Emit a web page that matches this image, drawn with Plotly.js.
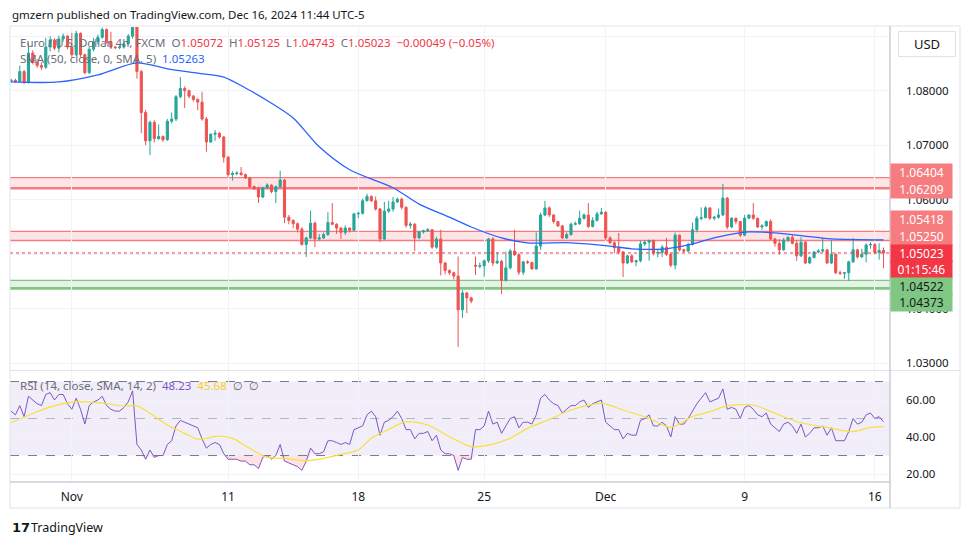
<!DOCTYPE html>
<html>
<head>
<meta charset="utf-8">
<script src="https://cdn.plot.ly/plotly-3.0.1.min.js"></script>
<style>
html,body{margin:0;padding:0;background:#ffffff;}
#chart{width:970px;height:545px;}
</style>
</head>
<body>
<div id="chart"></div>
<script>
// ---------- DATA (EUR/USD 4h, FXCM) ----------
const opens = [
1.0818,1.0819,1.0817,1.0835,1.0815,1.0869,1.0852,1.0846,1.0843,1.0880,
1.0893,1.0878,1.0895,1.0900,1.0880,1.0866,1.0905,1.0866,1.0833,1.0876,
1.0890,1.0898,1.0912,1.0890,1.0880,1.0879,1.0880,1.0886,1.0900,1.0925,
1.0835,1.0760,1.0708,1.0742,1.0712,1.0716,1.0710,1.0744,1.0748,1.0789,
1.0804,1.0800,1.0790,1.0784,1.0779,1.0748,1.0706,1.0720,1.0722,1.0715,
1.0678,1.0646,1.0648,1.0649,1.0646,1.0640,1.0624,1.0620,1.0605,1.0622,
1.0627,1.0615,1.0624,1.0636,1.0568,1.0562,1.0556,1.0546,1.0518,1.0530,
1.0557,1.0528,1.0530,1.0536,1.0558,1.0555,1.0548,1.0540,1.0548,1.0544,
1.0574,1.0575,1.0598,1.0606,1.0598,1.0583,1.0528,1.0579,1.0583,1.0596,
1.0601,1.0586,1.0553,1.0555,1.0530,1.0541,1.0543,1.0545,1.0513,1.0528,
1.0484,1.0470,1.0466,1.0460,1.0398,1.0429,1.0420,1.0480,1.0478,1.0479,
1.0488,1.0528,1.0484,1.0487,1.0452,1.0475,1.0506,1.0499,1.0467,1.0486,
1.0485,1.0473,1.0515,1.0572,1.0585,1.0572,1.0560,1.0552,1.0530,1.0536,
1.0555,1.0556,1.0566,1.0572,1.0551,1.0562,1.0574,1.0577,1.0530,1.0521,
1.0512,1.0504,1.0484,1.0497,1.0486,1.0488,1.0519,1.0522,1.0525,1.0502,
1.0503,1.0513,1.0500,1.0480,1.0535,1.0508,1.0506,1.0518,1.0545,1.0566,
1.0567,1.0585,1.0566,1.0568,1.0572,1.0603,1.0550,1.0566,1.0560,1.0535,
1.0566,1.0572,1.0566,1.0550,1.0552,1.0560,1.0528,1.0520,1.0508,1.0526,
1.0531,1.0520,1.0497,1.0522,1.0484,1.0494,1.0504,1.0506,1.0508,1.0484,
1.0500,1.0466,1.0465,1.0466,1.0486,1.0508,1.0495,1.0500,1.0517,1.0518,
1.0503,1.05072];
const highs = [
1.0822,1.0822,1.0846,1.0838,1.0888,1.0874,1.0858,1.0852,1.0897,1.0900,
1.0896,1.0901,1.0905,1.0902,1.0906,1.0910,1.0907,1.0868,1.0880,1.0897,
1.0903,1.0916,1.0914,1.0908,1.0882,1.0883,1.0888,1.0904,1.0940,1.0940,
1.0838,1.0765,1.0745,1.0746,1.0738,1.0718,1.0748,1.0760,1.0792,1.0825,
1.0808,1.0802,1.0792,1.0786,1.0798,1.0752,1.0722,1.0728,1.0724,1.0717,
1.0680,1.0652,1.0652,1.0660,1.0648,1.0642,1.0626,1.0624,1.0624,1.0630,
1.0628,1.0626,1.0653,1.0638,1.0572,1.0564,1.0558,1.0550,1.0532,1.0580,
1.0560,1.0537,1.0540,1.0577,1.0594,1.0557,1.0550,1.0553,1.0549,1.0576,
1.0578,1.0602,1.0611,1.0608,1.0606,1.0585,1.0596,1.0598,1.0605,1.0604,
1.0604,1.0588,1.0559,1.0557,1.0543,1.0545,1.0548,1.0546,1.0532,1.0545,
1.0486,1.0472,1.0468,1.0496,1.0434,1.0431,1.0422,1.0496,1.0485,1.0490,
1.0530,1.0531,1.0504,1.0490,1.0505,1.0510,1.0545,1.0502,1.0488,1.0489,
1.0486,1.0540,1.0576,1.0598,1.0588,1.0573,1.0561,1.0554,1.0540,1.0558,
1.0560,1.0580,1.0575,1.0594,1.0568,1.0578,1.0585,1.0579,1.0533,1.0524,
1.0539,1.0506,1.0499,1.0500,1.0490,1.0525,1.0526,1.0527,1.0527,1.0510,
1.0517,1.0530,1.0502,1.0540,1.0536,1.0510,1.0521,1.0558,1.0570,1.0586,
1.0588,1.0586,1.0570,1.0584,1.0629,1.0605,1.0568,1.0567,1.0561,1.0572,
1.0573,1.0594,1.0567,1.0555,1.0562,1.0564,1.0530,1.0528,1.0530,1.0533,
1.0536,1.0526,1.0531,1.0524,1.0496,1.0506,1.0509,1.0530,1.0510,1.0526,
1.0502,1.0470,1.0467,1.0488,1.0530,1.0510,1.0510,1.0520,1.0522,1.0520,
1.0520,1.05125];
const lows = [
1.0814,1.0814,1.0815,1.0812,1.0813,1.0848,1.0842,1.0838,1.0840,1.0872,
1.0874,1.0870,1.0890,1.0876,1.0862,1.0864,1.0862,1.0830,1.0831,1.0872,
1.0885,1.0895,1.0886,1.0876,1.0876,1.0876,1.0877,1.0884,1.0895,1.0822,
1.0722,1.0700,1.0682,1.0705,1.0710,1.0706,1.0708,1.0740,1.0744,1.0786,
1.0768,1.0786,1.0780,1.0764,1.0745,1.0688,1.0704,1.0708,1.0712,1.0668,
1.0642,1.0635,1.0645,1.0644,1.0638,1.0622,1.0618,1.0594,1.0603,1.0620,
1.0612,1.0594,1.0622,1.0557,1.0555,1.0548,1.0540,1.0516,1.0495,1.0528,
1.0513,1.0525,1.0528,1.0534,1.0553,1.0537,1.0528,1.0535,1.0540,1.0542,
1.0566,1.0573,1.0597,1.0596,1.0580,1.0522,1.0526,1.0576,1.0578,1.0594,
1.0582,1.0549,1.0547,1.0506,1.0528,1.0538,1.0541,1.0510,1.0510,1.0461,
1.0463,1.0462,1.0454,1.0330,1.0383,1.0392,1.0410,1.0462,1.0474,1.0459,
1.0484,1.0478,1.0482,1.0427,1.0450,1.0472,1.0497,1.0462,1.0462,1.0482,
1.0472,1.0472,1.0508,1.0570,1.0568,1.0556,1.0550,1.0528,1.0528,1.0534,
1.0553,1.0554,1.0563,1.0548,1.0549,1.0560,1.0572,1.0526,1.0518,1.0502,
1.0500,1.0458,1.0482,1.0484,1.0478,1.0485,1.0515,1.0488,1.0498,1.0494,
1.0495,1.0497,1.0476,1.0472,1.0505,1.0503,1.0504,1.0516,1.0540,1.0562,
1.0566,1.0563,1.0562,1.0565,1.0570,1.0546,1.0548,1.0555,1.0532,1.0533,
1.0565,1.0563,1.0548,1.0545,1.0550,1.0526,1.0514,1.0499,1.0506,1.0522,
1.0518,1.0488,1.0495,1.0482,1.0482,1.0492,1.0502,1.0503,1.0482,1.0482,
1.0464,1.0462,1.0455,1.0451,1.0484,1.0492,1.0494,1.0485,1.0510,1.0500,
1.0490,1.04743];
const closes = [
1.0819,1.0817,1.0835,1.0815,1.0869,1.0852,1.0846,1.0843,1.0880,1.0893,
1.0878,1.0895,1.0900,1.0880,1.0866,1.0905,1.0866,1.0833,1.0876,1.0890,
1.0898,1.0912,1.0890,1.0880,1.0879,1.0880,1.0886,1.0900,1.0925,1.0835,
1.0760,1.0708,1.0742,1.0712,1.0716,1.0710,1.0744,1.0748,1.0789,1.0804,
1.0800,1.0790,1.0784,1.0779,1.0748,1.0706,1.0720,1.0722,1.0715,1.0678,
1.0646,1.0648,1.0649,1.0646,1.0640,1.0624,1.0620,1.0605,1.0622,1.0627,
1.0615,1.0624,1.0636,1.0568,1.0562,1.0556,1.0546,1.0518,1.0530,1.0557,
1.0528,1.0530,1.0536,1.0558,1.0555,1.0548,1.0540,1.0548,1.0544,1.0574,
1.0575,1.0598,1.0606,1.0598,1.0583,1.0528,1.0579,1.0583,1.0596,1.0601,
1.0586,1.0553,1.0555,1.0530,1.0541,1.0543,1.0545,1.0513,1.0528,1.0484,
1.0470,1.0466,1.0460,1.0398,1.0429,1.0420,1.0414,1.0478,1.0479,1.0488,
1.0528,1.0484,1.0487,1.0452,1.0475,1.0506,1.0499,1.0467,1.0486,1.0485,
1.0473,1.0515,1.0572,1.0585,1.0572,1.0560,1.0552,1.0530,1.0536,1.0555,
1.0556,1.0566,1.0572,1.0551,1.0562,1.0574,1.0577,1.0530,1.0521,1.0512,
1.0504,1.0484,1.0497,1.0486,1.0488,1.0519,1.0522,1.0525,1.0502,1.0503,
1.0513,1.0500,1.0480,1.0535,1.0508,1.0506,1.0518,1.0545,1.0566,1.0567,
1.0585,1.0566,1.0568,1.0572,1.0603,1.0550,1.0566,1.0560,1.0535,1.0566,
1.0572,1.0566,1.0550,1.0552,1.0560,1.0528,1.0520,1.0508,1.0526,1.0531,
1.0520,1.0497,1.0522,1.0484,1.0494,1.0504,1.0506,1.0508,1.0484,1.0500,
1.0466,1.0465,1.0466,1.0486,1.0508,1.0495,1.0500,1.0517,1.0518,1.0503,
1.0507,1.05023];

// SMA(50) read at selected bars
const smaBars = [0,11,20,29,36,43,49,54,60,65,71,78,88,94,101,106,113,119,129,138,143,151,156,163,170,176,182,189,201];
const smaVals = [1.0816,1.0816,1.0829,1.0851,1.0840,1.0832,1.0825,1.0805,1.0777,1.0750,1.0697,1.0655,1.0622,1.0592,1.0568,1.0550,1.0530,1.0521,1.0521,1.0515,1.0510,1.0510,1.0517,1.0532,1.0541,1.0539,1.0534,1.0528,1.05263];

// RSI(14) per bar
const rsi = [
54,52,57,51,62,60,58,57,63,64,60,63,63,58,55,61,55,47,57,59,
60,62,57,55,54,54,56,59,65,36,33,28,33,29,30,30,36,38,46,49,
48,47,46,45,39,34,36,37,36,31,28,28,28,27,27,25,25,23,29,30,
28,30,36,27,26,25,24,22,27,34,31,31,32,38,38,37,36,37,36,44,
45,46,52,54,51,41,48,49,51,54,50,44,44,39,42,42,43,38,41,33,
31,31,30,22,29,28,28,44,44,46,54,47,48,42,46,50,51,45,48,48,
47,52,61,63,60,58,57,53,55,57,57,59,60,56,58,59,60,48,46,44,
44,39,42,41,41,49,50,52,46,46,48,46,40,51,47,47,50,54,58,61,
64,59,60,61,66,55,56,55,50,56,57,55,52,51,53,47,45,43,47,48,
46,42,47,40,42,45,45,46,41,45,38,38,38,43,50,47,48,52,53,50,
51,48.23];
// RSI-based SMA(14) read at selected bars
const rsiSmaBars = [0,6,10,15,20,26,29,32,36,40,43,48,51,55,59,63,68,72,76,80,83,87,91,96,101,106,111,115,119,124,129,136,141,147,152,157,161,165,171,177,182,188,194,198,201];
const rsiSmaVals = [47.7,53.7,56.8,59.1,58.6,56.8,56.8,52.8,46.5,42.0,38.9,40.5,39.3,33.9,29.0,28.5,27.2,28.5,30.6,33.0,39.3,44.1,48.3,46.5,40.2,34.8,36.2,39.3,44.7,49.5,54.6,58.2,54.6,50.1,45.2,51.0,53.7,56.8,57.3,51.9,47.7,45.2,42.9,45.2,45.68];

// Date axis
const tickBars = [14,50,80,109,137,169,199];
const tickLabels = ['Nov','11','18','25','Dec','9','16'];
// price grid levels and their labels (levels hidden behind markers carry no label)
const priceTicks = [1.03,1.04,1.05,1.06,1.07,1.08,1.09];
const priceTickText = ['1.03000','1.04000','','1.06000','1.07000','1.08000',''];
const rsiTicks = [20,40,60];

// Drawn zones
const zoneUpper = [1.06209, 1.06404];
const zoneMiddle = [1.05250, 1.05418];
const zoneLower = [1.04373, 1.04522];
const countdown = '01:15:46';

// ---------- BUILD ----------
const n = closes.length;
const bars = closes.map((_, i) => i);
const last = n - 1;
const rsiBelow = rsi.map(v => Math.min(v, 30));
const f5 = v => v.toFixed(5);

const FONT = '"Noto Sans", "DejaVu Sans", sans-serif';
const GRID = '#f0f3fa';
const FRAME = '#e0e3eb';
const AXISLINE = '#b2b5be';

const traces = [
  {type:'candlestick', x:bars, open:opens, high:highs, low:lows, close:closes,
   xaxis:'x', yaxis:'y', whiskerwidth:0, hoverinfo:'skip',
   increasing:{line:{color:'#26a69a', width:1}, fillcolor:'#26a69a'},
   decreasing:{line:{color:'#ef5350', width:1}, fillcolor:'#ef5350'}},
  {type:'scatter', mode:'lines', x:smaBars, y:smaVals, xaxis:'x', yaxis:'y',
   line:{color:'#2962ff', width:1.3, shape:'spline', smoothing:0.8}, hoverinfo:'skip'},
  {type:'scatter', mode:'lines', x:bars, y:bars.map(() => 30), xaxis:'x', yaxis:'y2',
   line:{width:0, color:'rgba(0,0,0,0)'}, hoverinfo:'skip'},
  {type:'scatter', mode:'lines', x:bars, y:rsiBelow, xaxis:'x', yaxis:'y2',
   fill:'tonexty', fillcolor:'rgba(242,54,69,0.14)', line:{width:0, color:'rgba(0,0,0,0)'}, hoverinfo:'skip'},
  {type:'scatter', mode:'lines', x:bars, y:rsi, xaxis:'x', yaxis:'y2',
   line:{color:'#7e57c2', width:1}, hoverinfo:'skip'},
  {type:'scatter', mode:'lines', x:rsiSmaBars, y:rsiSmaVals, xaxis:'x', yaxis:'y2',
   line:{color:'#f7e03c', width:1.2, shape:'spline', smoothing:0.8}, hoverinfo:'skip'}
];

// pixel helpers for paper coords (plot area 10..890 x, 27..482 y)
const px = x => (x - 10) / 880;
const py = y => (482 - y) / 455;

const shapes = [];
function zone(range, fill, lineCol, wTop, wBot){
  shapes.push({type:'rect', xref:'paper', yref:'y', x0:0, x1:1, y0:range[0], y1:range[1],
    fillcolor:fill, line:{width:0}, layer:'below'});
  shapes.push({type:'line', xref:'paper', yref:'y', x0:0, x1:1, y0:range[1], y1:range[1],
    line:{color:lineCol, width:wTop}, layer:'below'});
  shapes.push({type:'line', xref:'paper', yref:'y', x0:0, x1:1, y0:range[0], y1:range[0],
    line:{color:lineCol, width:wBot}, layer:'below'});
}
zone(zoneUpper, 'rgba(242,54,69,0.13)', '#f77c80', 1.2, 2.5);
zone(zoneMiddle, 'rgba(242,54,69,0.13)', '#f77c80', 1.2, 1.5);
zone(zoneLower, 'rgba(76,175,80,0.15)', '#81c784', 1.2, 2.8);
// last price dotted line
shapes.push({type:'line', xref:'paper', yref:'y', x0:0, x1:1, y0:closes[last], y1:closes[last],
  line:{color:'#f23645', width:1, dash:'dot'}});
// RSI band & levels
shapes.push({type:'rect', xref:'paper', yref:'y2', x0:0, x1:1, y0:30, y1:70,
  fillcolor:'rgba(126,87,194,0.10)', line:{width:0}, layer:'below'});
[[70,'#787b86'],[50,'#b2b5be'],[30,'#787b86']].forEach(([v,c]) => {
  shapes.push({type:'line', xref:'paper', yref:'y2', x0:0, x1:1, y0:v, y1:v,
    line:{color:c, width:1, dash:'dash'}, layer:'below'});
});
// frame
const frame = (x0,y0,x1,y1,c) => shapes.push({type:'line', xref:'paper', yref:'paper',
  x0:px(x0), x1:px(x1), y0:py(y0), y1:py(y1), line:{color:c, width:1}});
frame(10,26,960,26,FRAME);
frame(10,508,960,508,FRAME);
frame(10,26,10,508,FRAME);
frame(960,26,960,508,FRAME);
frame(10,370.5,960,370.5,FRAME);
frame(10,482,890,482,AXISLINE);
frame(890,26,890,508,AXISLINE);

// annotations
const ann = [];
const txt = (x,y,text,opt={}) => ann.push(Object.assign({xref:'paper', yref:'paper', x:px(x), y:py(y),
  xanchor:'left', yanchor:'middle', showarrow:false, text:text,
  font:{family:FONT, size:11.5, color:'#131722'}}, opt));

txt(10, 14, 'gmzern published on TradingView.com, Dec 16, 2024 11:44 UTC-5', {font:{family:FONT, size:11.5, color:'#131722'}});
const G = '#6a6d78', R = '#f23645';
const sp = (c,t) => `<span style="color:${c}">${t}</span>`;
const chg = closes[last] - opens[last];
const chgTxt = (chg < 0 ? '−' : '+') + Math.abs(chg).toFixed(5) + ' (' + (chg < 0 ? '−' : '+') + Math.abs(chg / opens[last] * 100).toFixed(2) + '%)';
txt(18, 42, sp(G,'Euro / U.S. Dollar, 4h, FXCM  O') + sp(R,f5(opens[last])) + sp(G,'  H') + sp(R,f5(highs[last])) +
  sp(G,'  L') + sp(R,f5(lows[last])) + sp(G,'  C') + sp(R,f5(closes[last])) + sp(R,'  ' + chgTxt), {font:{family:FONT, size:11.5, color:G}});
txt(18, 59, sp(G,'SMA (50, close, 0, SMA, 5)  ') + sp('#2962ff', f5(smaVals[smaVals.length-1])), {font:{family:FONT, size:11.5, color:G}});
txt(18, 385, sp(G,'RSI (14, close, SMA, 14, 2)  ') + sp('#7e57c2', rsi[last].toFixed(2)) + '  ' +
  sp('#f2d21c', rsiSmaVals[rsiSmaVals.length-1].toFixed(2)) + sp(G,'  ∅  ∅'), {font:{family:FONT, size:11.5, color:G}});

// USD button
ann.push({xref:'paper', yref:'paper', x:px(927), y:py(44), xanchor:'center', yanchor:'middle', showarrow:false,
  text:'USD', width:56, height:24, bgcolor:'#ffffff', bordercolor:'#e0e3eb', borderwidth:1, borderpad:0,
  font:{family:FONT, size:13, color:'#131722'}});

// price labels on the axis
function plabel(val, text, shift, bg, fc){
  ann.push({xref:'paper', yref:'y', x:1, y:val, xanchor:'left', yanchor:'middle', yshift:shift,
    showarrow:false, text:text, width:61, height:16.5, borderpad:0, bgcolor:bg, align:'center',
    font:{family:FONT, size:12, color:fc}});
}
plabel(zoneUpper[1], f5(zoneUpper[1]), 4.7, '#f77c80', '#ffffff');
plabel(zoneUpper[0], f5(zoneUpper[0]), -1.2, '#f77c80', '#ffffff');
plabel(zoneMiddle[1], f5(zoneMiddle[1]), 11.9, '#f77c80', '#ffffff');
plabel(zoneMiddle[0], f5(zoneMiddle[0]), 4.6, '#f77c80', '#ffffff');
plabel(closes[last], f5(closes[last]), -0.5, '#f23645', '#ffffff');
plabel(closes[last], countdown, -17, '#f23645', '#ffffff');
plabel(zoneLower[1], f5(zoneLower[1]), -6.1, '#81c784', '#131722');
plabel(zoneLower[0], f5(zoneLower[0]), -14.5, '#81c784', '#131722');

// footer logo
txt(10, 527, '<b>17</b>', {font:{family:'"DejaVu Sans", sans-serif', size:13, color:'#131722'}});
txt(29, 527, 'TradingView', {font:{family:FONT, size:12.5, color:'#131722'}});

const layout = {
  width:970, height:545,
  margin:{l:10, r:80, t:27, b:63, pad:0},
  paper_bgcolor:'#ffffff', plot_bgcolor:'#ffffff',
  showlegend:false,
  font:{family:FONT, size:11, color:'#131722'},
  xaxis:{range:[-0.25, 202.5], anchor:'y2', tickmode:'array', tickvals:tickBars, ticktext:tickLabels,
    showgrid:true, gridcolor:GRID, gridwidth:1, zeroline:false, showline:false, ticks:'',
    rangeslider:{visible:false}, fixedrange:true, ticklabelstandoff:6,
    tickfont:{family:FONT, size:12, color:'#131722'}},
  yaxis:{domain:[0.2462, 1], range:[1.02877, 1.09168], side:'right', anchor:'x',
    tickmode:'array', tickvals:priceTicks, ticktext:priceTickText,
    showgrid:true, gridcolor:GRID, zeroline:false, showline:false, ticks:'', ticklabelstandoff:15,
    tickfont:{family:FONT, size:11.5, color:'#131722'}, fixedrange:true},
  yaxis2:{domain:[0, 0.2440], range:[15.7, 75.7], side:'right', anchor:'x',
    tickmode:'array', tickvals:rsiTicks, tickformat:'.2f',
    showgrid:true, gridcolor:GRID, zeroline:false, showline:false, ticks:'', ticklabelstandoff:15,
    tickfont:{family:FONT, size:11.5, color:'#131722'}, fixedrange:true},
  shapes:shapes,
  annotations:ann
};

Plotly.newPlot('chart', traces, layout, {staticPlot:true, displayModeBar:false});
</script>
</body>
</html>
